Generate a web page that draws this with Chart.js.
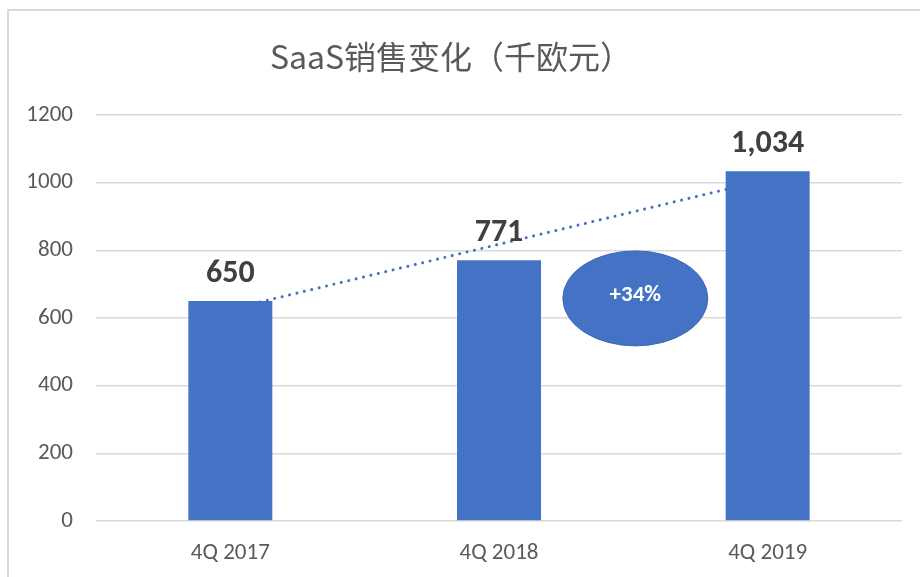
<!DOCTYPE html>
<html>
<head>
<meta charset="utf-8">
<script src="https://cdn.jsdelivr.net/npm/chart.js@4/dist/chart.umd.min.js"></script>
<style>
  html, body { margin: 0; padding: 0; background: #fff; }
  #wrap { position: relative; width: 920px; height: 577px; overflow: hidden; }
  #frame { position: absolute; left: 7px; top: 9px; width: 1000px; height: 1000px;
           border-left: 2px solid #d9d9d9; border-top: 2px solid #d9d9d9; pointer-events: none; }
  canvas { position: absolute; left: 0; top: 0; }
</style>
</head>
<body>
<div id="wrap">
  <canvas id="c" width="920" height="577"></canvas>
  <div id="frame"></div>
</div>
<script>
// ---- data ----
const categories = ['4Q 2017', '4Q 2018', '4Q 2019'];
const salesValues = [650, 771, 1034];
const trendValues = [626, 818, 1010];   // linear trendline (dotted)
const yTicks = [0, 200, 400, 600, 800, 1000, 1200];
const titleText = 'SaaS销售变化（千欧元）';
const growthLabel = '+34%';
const growthAnchorValue = 658;          // vertical position of the badge, in data units

const BLUE = '#4472C4';
const GREY_TEXT = '#595959';
const FONT = 'Carlito, Calibri, "Liberation Sans", Arial, sans-serif';

const valueLabels = {
  id: 'valueLabels',
  afterDatasetsDraw(chart) {
    const ctx = chart.ctx;
    const meta = chart.getDatasetMeta(0);
    ctx.save();
    ctx.font = 'bold 32px ' + FONT;
    ctx.fillStyle = '#404040';
    ctx.textAlign = 'center';
    ctx.textBaseline = 'alphabetic';
    meta.data.forEach((bar, i) => {
      const p = bar.getProps(['x', 'y'], true);
      ctx.fillText(salesValues[i].toLocaleString('en-US'), p.x, p.y - 19);
    });
    ctx.restore();
  }
};

const growthBadge = {
  id: 'growthBadge',
  afterDatasetsDraw(chart) {
    const ctx = chart.ctx;
    const xs = chart.scales.x, ys = chart.scales.y;
    const cx = (xs.getPixelForValue(1) + xs.getPixelForValue(2)) / 2 + 2;
    const cy = ys.getPixelForValue(growthAnchorValue);
    ctx.save();
    ctx.beginPath();
    ctx.ellipse(cx, cy, 72.5, 47.5, 0, 0, Math.PI * 2);
    ctx.fillStyle = BLUE;
    ctx.fill();
    ctx.lineWidth = 1;
    ctx.strokeStyle = '#3d67b3';
    ctx.stroke();
    ctx.font = 'bold 23px ' + FONT;
    ctx.fillStyle = '#ffffff';
    ctx.textAlign = 'center';
    ctx.textBaseline = 'middle';
    ctx.fillText(growthLabel, cx, cy - 3);
    ctx.restore();
  }
};

new Chart(document.getElementById('c'), {
  type: 'bar',
  data: {
    labels: categories,
    datasets: [
      {
        type: 'bar',
        label: 'Sales',
        data: salesValues,
        backgroundColor: BLUE,
        borderWidth: 0,
        categoryPercentage: 1,
        barPercentage: 0.3125,
        order: 1
      },
      {
        type: 'line',
        label: 'Trend',
        data: trendValues,
        borderColor: BLUE,
        borderWidth: 3,
        borderDash: [0.01, 7.6],
        borderCapStyle: 'round',
        pointRadius: 0,
        fill: false,
        tension: 0,
        order: 2
      }
    ]
  },
  options: {
    responsive: false,
    animation: false,
    events: [],
    layout: { padding: { left: 0, right: 18, top: 0, bottom: 0 } },
    plugins: {
      legend: { display: false },
      tooltip: { enabled: false },
      title: {
        display: true,
        text: titleText,
        color: GREY_TEXT,
        font: { family: '"Noto Sans CJK SC", "Noto Sans", sans-serif', size: 32, weight: 'normal', lineHeight: 1.2 },
        padding: { top: 38, bottom: 38.6 }
      }
    },
    scales: {
      x: {
        grid: { display: false },
        border: { display: false },
        ticks: {
          color: GREY_TEXT,
          font: { family: FONT, size: 23 },
          padding: 10
        },
        afterFit(scale) { scale.height = 56; }
      },
      y: {
        min: 0,
        max: 1200,
        afterBuildTicks(scale) { scale.ticks = yTicks.map(v => ({ value: v })); },
        grid: { color: '#d9d9d9', lineWidth: 1.6, drawTicks: false },
        border: { display: false },
        ticks: {
          color: GREY_TEXT,
          font: { family: FONT, size: 23 },
          padding: 23,
          callback: (v) => String(v)
        },
        afterFit(scale) { scale.width = 96; }
      }
    }
  },
  plugins: [valueLabels, growthBadge]
});
</script>
</body>
</html>
